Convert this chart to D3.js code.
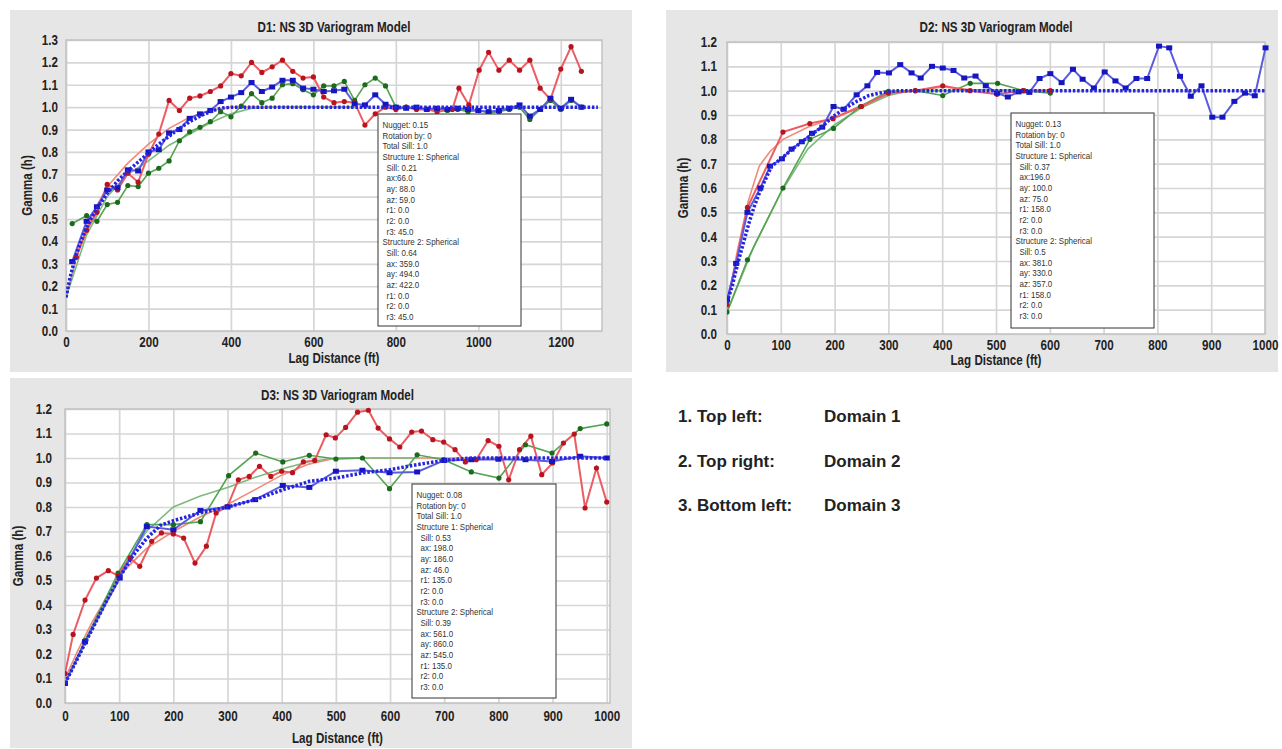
<!DOCTYPE html>
<html>
<head>
<meta charset="utf-8">
<script src="https://cdn.jsdelivr.net/npm/d3@7"></script>
<style>
body { margin: 0; background: #fff; }
svg text { font-family: "Liberation Sans", Arial, sans-serif; fill: #222; }
</style>
</head>
<body>
<svg width="1282" height="749"></svg>
<script>
"use strict";

// ---- data ----
var xTicksD1 = [0, 200, 400, 600, 800, 1000, 1200];
var xTicksD23 = [0, 100, 200, 300, 400, 500, 600, 700, 800, 900, 1000];
var yTicksD1 = [0, 0.1, 0.2, 0.3, 0.4, 0.5, 0.6, 0.7, 0.8, 0.9, 1.0, 1.1, 1.2, 1.3];
var yTicksD23 = [0, 0.1, 0.2, 0.3, 0.4, 0.5, 0.6, 0.7, 0.8, 0.9, 1.0, 1.1, 1.2];

// D1 experimental (lag, gamma)
var d1Red = [[25,0.33],[50,0.45],[75,0.53],[100,0.655],[125,0.63],[150,0.705],[175,0.665],[200,0.79],[225,0.88],[250,1.03],[275,0.985],[300,1.04],[325,1.05],[350,1.07],[375,1.095],[400,1.15],[425,1.14],[450,1.2],[475,1.155],[500,1.18],[525,1.21],[550,1.16],[575,1.13],[600,1.135],[625,1.045],[650,1.02],[675,1.025],[700,1.02],[725,0.92],[750,0.97],[775,1.0],[800,0.99],[825,1.0],[850,0.99],[875,0.99],[900,0.98],[937,0.99],[953,1.085],[977,1.01],[1002,1.165],[1025,1.245],[1050,1.165],[1075,1.21],[1100,1.165],[1125,1.21],[1150,1.085],[1175,1.035],[1200,1.17],[1225,1.27],[1250,1.16]];
var d1Green = [[15,0.48],[50,0.515],[75,0.49],[100,0.565],[125,0.575],[150,0.65],[175,0.645],[200,0.705],[225,0.727],[250,0.76],[275,0.85],[300,0.89],[325,0.91],[350,0.935],[375,0.98],[400,0.957],[425,1.005],[450,1.06],[475,1.02],[500,1.04],[525,1.1],[550,1.105],[575,1.078],[600,1.055],[625,1.095],[650,1.095],[675,1.115],[700,1.03],[725,1.1],[750,1.13],[775,1.095],[800,1.0],[825,1.0],[850,0.995],[875,0.99],[900,0.99],[925,0.985],[950,0.99],[975,0.98],[1000,0.985],[1025,0.975],[1050,0.98],[1075,0.99],[1100,1.0],[1125,0.945],[1150,0.99],[1175,1.03],[1200,0.99],[1225,1.03],[1250,1.0]];
var d1Blue = [[15,0.31],[50,0.49],[75,0.555],[100,0.63],[125,0.64],[150,0.72],[175,0.715],[200,0.8],[225,0.81],[250,0.885],[275,0.9],[300,0.95],[325,0.97],[350,0.985],[375,1.025],[400,1.045],[425,1.065],[450,1.11],[475,1.07],[500,1.09],[525,1.12],[550,1.12],[575,1.085],[600,1.08],[625,1.07],[650,1.073],[675,1.08],[700,1.015],[725,1.01],[750,1.055],[775,1.013],[800,1.0],[825,0.995],[850,1.0],[875,0.99],[900,0.995],[925,0.99],[950,0.995],[975,0.99],[1000,0.985],[1025,0.98],[1050,0.985],[1075,0.995],[1100,1.01],[1125,0.96],[1150,0.99],[1175,1.04],[1200,0.995],[1225,1.035],[1250,1.0]];
// D1 models
var d1RedModel = [[0,0.15],[25,0.33],[50,0.46],[75,0.56],[100,0.645],[150,0.75],[200,0.835],[250,0.905],[300,0.955],[350,0.985],[400,1.0],[700,1.0]];
var d1GreenModel = [[0,0.15],[50,0.43],[100,0.6],[150,0.7],[200,0.76],[250,0.83],[300,0.88],[350,0.93],[400,0.97],[450,0.995],[500,1.0],[700,1.0]];
var d1BlueModel = [[0,0.15],[10,0.24],[20,0.31],[30,0.37],[45,0.44],[60,0.5],[80,0.56],[100,0.615],[125,0.67],[150,0.715],[175,0.755],[200,0.795],[225,0.835],[250,0.87],[275,0.905],[300,0.935],[325,0.96],[350,0.98],[375,0.995],[400,1.0],[1290,1.0]];

// D2 experimental
var d2Red = [[0,0.12],[38,0.52],[104,0.83],[154,0.865],[197,0.885],[250,0.935],[300,0.99],[350,1.0],[401,1.02],[452,1.0],[502,0.985],[550,1.0],[601,1.0]];
var d2Green = [[0,0.09],[38,0.305],[104,0.6],[154,0.8],[198,0.845],[248,0.935],[300,0.997],[350,1.0],[401,0.98],[452,1.03],[503,1.03],[552,1.0],[601,0.99]];
var d2Blue = [[0,0.14],[17,0.29],[38,0.5],[62,0.6],[80,0.69],[102,0.72],[120,0.76],[139,0.79],[158,0.825],[177,0.85],[198,0.935],[217,0.924],[241,0.983],[261,1.02],[279,1.075],[301,1.073],[322,1.107],[343,1.073],[360,1.052],[381,1.1],[401,1.093],[421,1.083],[441,1.052],[462,1.06],[481,1.02],[502,0.99],[522,0.974],[542,0.995],[562,0.993],[581,1.05],[601,1.07],[622,1.033],[643,1.088],[661,1.047],[682,1.011],[702,1.077],[722,1.04],[741,1.011],[761,1.05],[781,1.05],[803,1.183],[822,1.176],[842,1.059],[862,0.977],[882,1.02],[902,0.891],[921,0.891],[943,0.956],[963,0.99],[981,0.979],[1001,1.176]];
// D2 models
var d2RedModel = [[0,0.12],[20,0.35],[40,0.55],[60,0.69],[80,0.75],[104,0.8],[150,0.85],[200,0.89],[250,0.94],[300,0.985],[350,1.0],[400,1.015],[450,1.005],[600,1.0]];
var d2GreenModel = [[0,0.09],[50,0.36],[100,0.58],[150,0.76],[200,0.86],[250,0.93],[300,0.98],[340,1.0],[600,1.0]];
var d2BlueModel = [[0,0.13],[10,0.2],[20,0.29],[30,0.37],[40,0.45],[50,0.52],[62,0.59],[83,0.69],[102,0.723],[120,0.757],[139,0.79],[158,0.82],[177,0.853],[198,0.895],[220,0.929],[242,0.957],[264,0.98],[283,0.99],[301,0.997],[320,1.0],[1000,1.0]];

// D3 experimental
var d3Red = [[0,0.12],[15,0.28],[37,0.42],[58,0.51],[80,0.54],[98,0.52],[120,0.592],[138,0.558],[160,0.66],[178,0.694],[200,0.69],[219,0.673],[240,0.571],[261,0.64],[279,0.776],[300,0.803],[320,0.911],[340,0.925],[359,0.966],[380,0.925],[400,0.946],[420,0.94],[440,0.984],[461,0.99],[482,1.095],[499,1.082],[518,1.125],[540,1.187],[560,1.195],[578,1.122],[599,1.078],[618,1.045],[640,1.106],[658,1.11],[679,1.075],[699,1.065],[720,1.034],[739,0.984],[759,0.993],[781,1.071],[801,1.048],[819,0.911],[839,1.034],[860,1.089],[880,0.932],[900,0.98],[920,1.061],[940,1.098],[960,0.796],[981,0.959],[1000,0.82]];
var d3Green = [[0,0.08],[37,0.255],[98,0.53],[151,0.728],[200,0.728],[250,0.74],[302,0.928],[352,1.02],[402,0.984],[451,1.011],[500,0.996],[549,1.0],[599,0.875],[650,1.013],[699,0.993],[750,0.943],[801,0.918],[850,1.054],[899,1.02],[951,1.12],[1000,1.139]];
var d3Blue = [[0,0.08],[37,0.25],[101,0.51],[151,0.72],[200,0.707],[250,0.786],[300,0.8],[351,0.83],[402,0.888],[451,0.88],[500,0.946],[549,0.95],[599,0.94],[650,0.943],[700,0.99],[750,0.993],[800,0.995],[850,0.993],[899,0.986],[951,1.007],[1000,1.0]];
// D3 models
var d3RedModel = [[0,0.1],[25,0.22],[50,0.33],[100,0.52],[150,0.63],[200,0.7],[250,0.76],[300,0.81],[350,0.87],[400,0.93],[450,0.975],[500,1.0],[800,1.0]];
var d3GreenModel = [[0,0.08],[50,0.3],[100,0.53],[150,0.7],[200,0.8],[250,0.845],[300,0.88],[350,0.92],[400,0.955],[450,0.985],[500,1.0],[650,1.0]];
var d3BlueModel = [[0,0.08],[25,0.19],[50,0.3],[75,0.41],[100,0.51],[125,0.6],[150,0.67],[176,0.725],[200,0.744],[250,0.776],[300,0.8],[351,0.83],[402,0.87],[451,0.905],[500,0.918],[549,0.939],[599,0.952],[650,0.973],[699,0.99],[750,1.0],[1000,1.0]];

// parameter boxes
var d1Box = ["Nugget: 0.15","Rotation by: 0","Total Sill: 1.0","Structure 1: Spherical","  Sill: 0.21","  ax:66.0","  ay: 88.0","  az: 59.0","  r1: 0.0","  r2: 0.0","  r3: 45.0","Structure 2: Spherical","  Sill: 0.64","  ax: 359.0","  ay: 494.0","  az: 422.0","  r1: 0.0","  r2: 0.0","  r3: 45.0"];
var d2Box = ["Nugget: 0.13","Rotation by: 0","Total Sill: 1.0","Structure 1: Spherical","  Sill: 0.37","  ax:196.0","  ay: 100.0","  az: 75.0","  r1: 158.0","  r2: 0.0","  r3: 0.0","Structure 2: Spherical","  Sill: 0.5","  ax: 381.0","  ay: 330.0","  az: 357.0","  r1: 158.0","  r2: 0.0","  r3: 0.0"];
var d3Box = ["Nugget: 0.08","Rotation by: 0","Total Sill: 1.0","Structure 1: Spherical","  Sill: 0.53","  ax: 198.0","  ay: 186.0","  az: 46.0","  r1: 135.0","  r2: 0.0","  r3: 0.0","Structure 2: Spherical","  Sill: 0.39","  ax: 561.0","  ay: 860.0","  az: 545.0","  r1: 135.0","  r2: 0.0","  r3: 0.0"];

var sideKeys = ["1. Top left:", "2. Top right:", "3. Bottom left:"];
var sideValues = ["Domain 1", "Domain 2", "Domain 3"];

// ---- layout ----
var NARROW = 0.83; // no Arial Narrow installed: squeeze Liberation Sans horizontally

var panels = [
  { title: "D1: NS 3D Variogram Model", frame: [10, 10, 622, 362], plot: { l: 66, t: 40, r: 602, b: 331 },
    xMax: 1300, yMax: 1.3, xTicks: xTicksD1, yTicks: yTicksD1, yPad: 8, xPad: 6, yLabelX: 27, xLabelY: 362.5,
    red: d1Red, green: d1Green, blue: d1Blue, redM: d1RedModel, greenM: d1GreenModel, blueM: d1BlueModel,
    box: [378, 114, 143, 212], lines: d1Box },
  { title: "D2: NS 3D Variogram Model", frame: [666, 10, 612, 362], plot: { l: 727, t: 42, r: 1265, b: 334 },
    xMax: 1000, yMax: 1.2, xTicks: xTicksD23, yTicks: yTicksD23, yPad: 10, xPad: 6, yLabelX: 683, xLabelY: 365,
    red: d2Red, green: d2Green, blue: d2Blue, redM: d2RedModel, greenM: d2GreenModel, blueM: d2BlueModel,
    box: [1011, 113, 143, 215], lines: d2Box },
  { title: "D3: NS 3D Variogram Model", frame: [10, 378, 622, 370], plot: { l: 65, t: 409, r: 610, b: 703 },
    xMax: 1006, yMax: 1.2, xTicks: xTicksD23, yTicks: yTicksD23, yPad: 13, xPad: 8, yLabelX: 18, xLabelY: 742.5,
    red: d3Red, green: d3Green, blue: d3Blue, redM: d3RedModel, greenM: d3GreenModel, blueM: d3BlueModel,
    box: [412, 484, 144, 214], lines: d3Box }
];

var svg = d3.select("svg");

// condensed text placed at (x, y)
function narrowText(g, x, y, str, size, weight, extra) {
  return g.append("text")
    .attr("transform", "translate(" + x + "," + y + ")" + (extra || "") + " scale(" + NARROW + ",1)")
    .attr("font-size", size).attr("font-weight", weight || "normal").text(str);
}

function drawPanel(p) {
  var g = svg.append("g");
  var pl = p.plot;

  g.append("rect").attr("x", p.frame[0]).attr("y", p.frame[1])
    .attr("width", p.frame[2]).attr("height", p.frame[3]).attr("fill", "#e6e6e6");

  var x = d3.scaleLinear().domain([0, p.xMax]).range([pl.l, pl.r]);
  var y = d3.scaleLinear().domain([0, p.yMax]).range([pl.b, pl.t]);

  g.append("rect").attr("x", pl.l).attr("y", pl.t).attr("width", pl.r - pl.l).attr("height", pl.b - pl.t)
    .attr("fill", "#fff");

  // grid
  var gx = g.append("g").attr("transform", "translate(0," + pl.b + ")")
    .call(d3.axisBottom(x).tickValues(p.xTicks).tickSize(-(pl.b - pl.t)).tickFormat(""));
  var gy = g.append("g").attr("transform", "translate(" + pl.l + ",0)")
    .call(d3.axisLeft(y).tickValues(p.yTicks).tickSize(-(pl.r - pl.l)).tickFormat(""));
  [gx, gy].forEach(function (a) {
    a.select(".domain").remove();
    a.selectAll("line").attr("stroke", "#d6d6d6").attr("stroke-width", 1.7);
  });

  g.append("rect").attr("x", pl.l).attr("y", pl.t).attr("width", pl.r - pl.l).attr("height", pl.b - pl.t)
    .attr("fill", "none").attr("stroke", "#c2c2c2").attr("stroke-width", 1.5);

  // tick labels
  var ax = g.append("g").attr("transform", "translate(0," + pl.b + ")")
    .call(d3.axisBottom(x).tickValues(p.xTicks).tickSize(0).tickPadding(p.xPad).tickFormat(d3.format("d")));
  var ay = g.append("g").attr("transform", "translate(" + pl.l + ",0)")
    .call(d3.axisLeft(y).tickValues(p.yTicks).tickSize(0).tickPadding(p.yPad / NARROW).tickFormat(d3.format(".1f")));
  [ax, ay].forEach(function (a) {
    a.attr("font-family", null).attr("font-size", 14).attr("font-weight", "bold");
    a.select(".domain").remove();
    a.selectAll("text").attr("transform", "scale(" + NARROW + ",1)");
  });

  // titles
  var cx = (pl.l + pl.r) / 2;
  narrowText(g, cx, p.frame[1] + 21.5, p.title, 14, "bold").attr("text-anchor", "middle");
  narrowText(g, cx, p.xLabelY, "Lag Distance (ft)", 14, "bold").attr("text-anchor", "middle");
  narrowText(g, p.yLabelX, (pl.t + pl.b) / 2, "Gamma (h)", 14, "bold", " rotate(-90)")
    .attr("text-anchor", "middle").attr("dy", "0.35em");

  var line = d3.line().x(function (d) { return x(d[0]); }).y(function (d) { return y(d[1]); });
  var clip = "clip-" + p.title.slice(0, 2);
  g.append("clipPath").attr("id", clip).append("rect")
    .attr("x", pl.l).attr("y", pl.t - 6).attr("width", pl.r - pl.l + 6).attr("height", pl.b - pl.t + 6);
  var lines = g.append("g").attr("clip-path", "url(#" + clip + ")");

  // models (thin)
  lines.append("path").datum(p.redM).attr("d", line).attr("fill", "none")
    .attr("stroke", "#f08a7a").attr("stroke-width", 1.6);
  lines.append("path").datum(p.greenM).attr("d", line).attr("fill", "none")
    .attr("stroke", "#7dbb7d").attr("stroke-width", 1.6);

  // experimental
  lines.append("path").datum(p.green).attr("d", line).attr("fill", "none")
    .attr("stroke", "#55a355").attr("stroke-width", 1.6);
  lines.append("path").datum(p.red).attr("d", line).attr("fill", "none")
    .attr("stroke", "#ec5d63").attr("stroke-width", 2);
  lines.append("path").datum(p.blue).attr("d", line).attr("fill", "none")
    .attr("stroke", "#5b5be0").attr("stroke-width", 2);

  lines.selectAll(".gdot").data(p.green).enter().append("circle")
    .attr("cx", function (d) { return x(d[0]); }).attr("cy", function (d) { return y(d[1]); })
    .attr("r", 2.6).attr("fill", "#1d6a1d");
  lines.selectAll(".rdot").data(p.red).enter().append("circle")
    .attr("cx", function (d) { return x(d[0]); }).attr("cy", function (d) { return y(d[1]); })
    .attr("r", 2.6).attr("fill", "#b81420");
  lines.selectAll(".bdot").data(p.blue).enter().append("rect")
    .attr("x", function (d) { return x(d[0]) - 3; }).attr("y", function (d) { return y(d[1]) - 2.5; })
    .attr("width", 6).attr("height", 5).attr("fill", "#1616c0");

  // blue dotted model on top
  lines.append("path").datum(p.blueM).attr("d", line).attr("fill", "none")
    .attr("stroke", "#2424e0").attr("stroke-width", 3.5).attr("stroke-dasharray", "2.5,1.8");

  // parameter box
  var b = p.box;
  g.append("rect").attr("x", b[0]).attr("y", b[1]).attr("width", b[2]).attr("height", b[3])
    .attr("fill", "#fff").attr("stroke", "#333").attr("stroke-width", 1);
  p.lines.forEach(function (d, i) {
    var indent = d.charAt(0) === " " ? 8.5 : 4.5;
    narrowText(g, b[0] + indent, b[1] + 14 + i * 10.67, d.trim(), 9.6).style("fill", "#333");
  });
}

panels.forEach(drawPanel);

// domain list on the right
var side = svg.append("g");
sideKeys.forEach(function (k, i) {
  side.append("text").attr("x", 678).attr("y", 422 + i * 44.5)
    .attr("font-size", 17).attr("font-weight", "bold").text(k);
  side.append("text").attr("x", 824).attr("y", 422 + i * 44.5)
    .attr("font-size", 17).attr("font-weight", "bold").text(sideValues[i]);
});
</script>
</body>
</html>
